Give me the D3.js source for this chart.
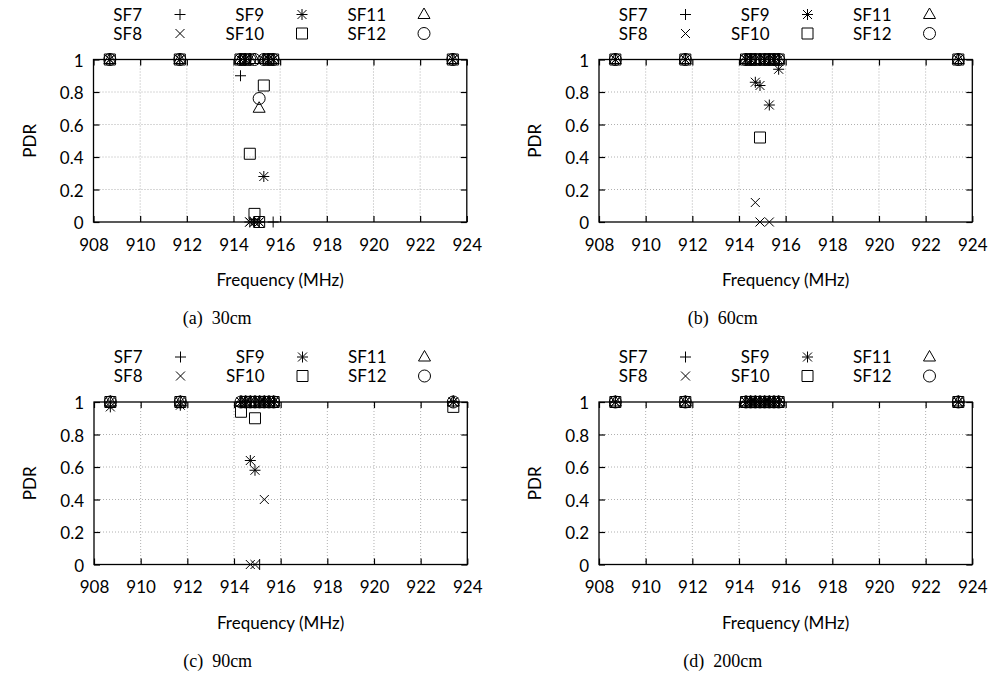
<!DOCTYPE html>
<html><head><meta charset="utf-8">
<script src="https://cdn.jsdelivr.net/npm/d3@7"></script>
<style>body{margin:0;background:#fff} text{font-family:Lato,"DejaVu Sans",sans-serif;fill:#000}</style>
</head><body><svg id="c" width="995" height="674" style="background:#fff"></svg>
<script>
// ---- data ----
const freqs = [908.7, 911.7, 914.3, 914.5, 914.7, 914.9, 915.1, 915.3, 915.5, 915.7, 923.4];
const seriesNames = ["SF7", "SF8", "SF9", "SF10", "SF11", "SF12"];
const xTicks = [908, 910, 912, 914, 916, 918, 920, 922, 924];
const yTicks = [0, 0.2, 0.4, 0.6, 0.8, 1];
const captions = ["(a)  30cm", "(b)  60cm", "(c)  90cm", "(d)  200cm"];
// rows: SF7..SF12, columns follow freqs
const pdr30 = [
  [1, 1, 0.9, 1, 1, 0, 0, 1, 1, 0, 1],
  [1, 1, 1, 1, 0, 0, 0, 1, 1, 1, 1],
  [1, 1, 1, 1, 0, 0, 0, 0.28, 1, 1, 1],
  [1, 1, 1, 1, 0.42, 0.05, 0, 0.84, 1, 1, 1],
  [1, 1, 1, 1, 1, 1, 0.7, 1, 1, 1, 1],
  [1, 1, 1, 1, 1, 1, 0.76, 1, 1, 1, 1]
];
const pdr60 = [
  [1, 1, 1, 1, 1, 1, 1, 1, 1, 1, 1],
  [1, 1, 1, 1, 0.12, 0, 1, 0, 1, 1, 1],
  [1, 1, 1, 1, 0.86, 0.84, 1, 0.72, 1, 0.94, 1],
  [1, 1, 1, 1, 1, 0.52, 1, 1, 1, 1, 1],
  [1, 1, 1, 1, 1, 1, 1, 1, 1, 1, 1],
  [1, 1, 1, 1, 1, 1, 1, 1, 1, 1, 1]
];
const pdr90 = [
  [1, 1, 1, 1, 1, 1, 0, 1, 1, 1, 1],
  [1, 1, 1, 1, 0, 0, 1, 0.40, 1, 1, 1],
  [0.97, 0.98, 1, 1, 0.64, 0.58, 1, 1, 1, 1, 1],
  [1, 1, 0.94, 1, 1, 0.90, 1, 1, 1, 1, 0.97],
  [1, 1, 1, 1, 1, 1, 1, 1, 1, 1, 1],
  [1, 1, 1, 1, 1, 1, 1, 1, 1, 1, 1]
];
const pdr200 = [
  [1, 1, 1, 1, 1, 1, 1, 1, 1, 1, 1],
  [1, 1, 1, 1, 1, 1, 1, 1, 1, 1, 1],
  [1, 1, 1, 1, 1, 1, 1, 1, 1, 1, 1],
  [1, 1, 1, 1, 1, 1, 1, 1, 1, 1, 1],
  [1, 1, 1, 1, 1, 1, 1, 1, 1, 1, 1],
  [1, 1, 1, 1, 1, 1, 1, 1, 1, 1, 1]
];
const panelData = [pdr30, pdr60, pdr90, pdr200];

// ---- layout ----
const W = 373.3, H = 162.5;
const origins = [[93.5, 59.5], [599, 59.5], [94, 402], [599, 402]];
const svg = d3.select("#c");

const markerPaths = {
  SF7: "M-5.5,0H5.5M0,-5.5V5.5",
  SF8: "M-4.5,-4.5L4.5,4.5M-4.5,4.5L4.5,-4.5",
  SF9: "M-5.5,0H5.5M0,-5.5V5.5M-4.5,-4.5L4.5,4.5M-4.5,4.5L4.5,-4.5",
  SF10: "M-5.5,-5.5H5.5V5.5H-5.5Z",
  SF11: "M0,-6.5L6,4L-6,4Z",
  SF12: "M6,0A6,6 0 1,1 -6,0A6,6 0 1,1 6,0Z"
};

function drawMarker(g, name, x, y) {
  g.append("path").attr("d", markerPaths[name])
    .attr("transform", `translate(${x},${y})`)
    .attr("fill", "none").attr("stroke", "#000").attr("stroke-width", 1);
}

origins.forEach(([ox, oy], pi) => {
  const g = svg.append("g").attr("transform", `translate(${ox},${oy})`);
  const x = d3.scaleLinear().domain([908, 924]).range([0, W]);
  const y = d3.scaleLinear().domain([0, 1]).range([H, 0]);

  // grid
  const grid = g.append("g").attr("stroke", "#b0b0b0").attr("stroke-width", 1).attr("stroke-dasharray", "1,2");
  xTicks.slice(1, -1).forEach(t => grid.append("line").attr("x1", x(t)).attr("x2", x(t)).attr("y1", 0).attr("y2", H));
  yTicks.slice(1, -1).forEach(t => grid.append("line").attr("x1", 0).attr("x2", W).attr("y1", y(t)).attr("y2", y(t)));

  // axes with inward ticks
  const axB = g.append("g").attr("transform", `translate(0,${H})`)
    .call(d3.axisBottom(x).tickValues(xTicks).tickSize(-6).tickSizeOuter(0).tickPadding(21).tickFormat(d3.format("d")));
  const axT = g.append("g").call(d3.axisTop(x).tickValues(xTicks).tickSize(-6).tickSizeOuter(0).tickFormat(""));
  const axL = g.append("g").call(d3.axisLeft(y).tickValues(yTicks).tickSize(-6).tickSizeOuter(0).tickPadding(10).tickFormat(d => d === 0 || d === 1 ? d3.format("d")(d) : d3.format(".1f")(d)));
  const axR = g.append("g").attr("transform", `translate(${W},0)`).call(d3.axisRight(y).tickValues(yTicks).tickSize(-6).tickSizeOuter(0).tickFormat(""));
  [axB, axT, axL, axR].forEach(a => {
    a.select(".domain").remove();
    a.selectAll("line").attr("stroke", "#000").attr("stroke-width", 1.2);
    a.selectAll("text").style("font-family", "Lato").style("font-size", "17px").attr("fill", "#000");
  });
  axB.selectAll("text").attr("dy", "0.45em");
  axL.selectAll("text").attr("dy", "0.4em");
  g.append("rect").attr("x", 0).attr("y", 0).attr("width", W).attr("height", H)
    .attr("fill", "none").attr("stroke", "#000").attr("stroke-width", 1.3);

  // points
  const pts = g.append("g");
  panelData[pi].forEach((row, si) => {
    row.forEach((v, fi) => drawMarker(pts, seriesNames[si], x(freqs[fi]), y(v)));
  });

  // axis titles
  g.append("text").attr("x", W / 2).attr("y", H + 64).attr("text-anchor", "middle")
    .style("font-size", "17px").text("Frequency (MHz)");
  g.append("text").attr("transform", `translate(${-58},${H / 2}) rotate(-90)`).attr("text-anchor", "middle")
    .style("font-size", "17px").text("PDR");
  g.append("text").attr("x", W / 2 - 63).attr("y", H + 102).attr("text-anchor", "middle")
    .style("white-space", "pre")
    .style("font-family", "'Liberation Serif',serif").style("font-size", "18px").text(captions[pi]);

  // legend
  seriesNames.forEach((name, si) => {
    const col = Math.floor(si / 2), row = si % 2;
    const tx = 48.5 + 122 * col, ly = -45 + 19 * row;
    g.append("text").attr("x", tx).attr("y", ly + 6).attr("text-anchor", "end")
      .style("font-size", "17px").text(name);
    drawMarker(g, name, tx + 38, ly);
  });
});
</script></body></html>
